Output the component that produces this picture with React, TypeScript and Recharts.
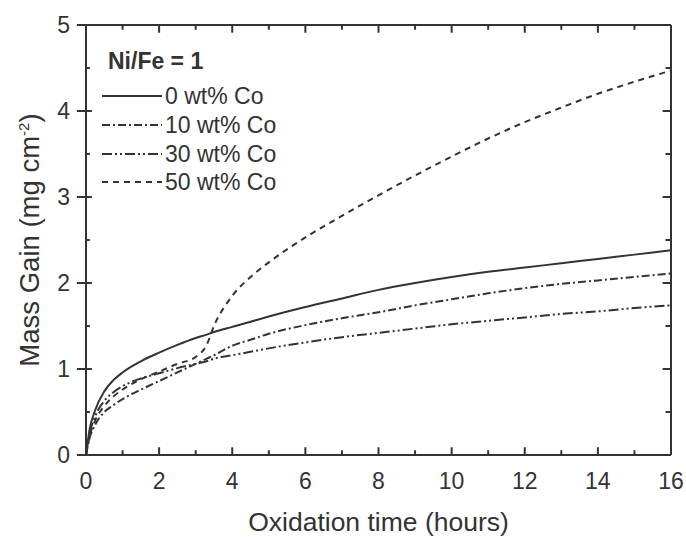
import React from "react";
import { LineChart, Line, XAxis, YAxis, ReferenceLine } from "recharts";

// oxidation time (hours)
const hours = [0, 0.1, 0.25, 0.5, 0.75, 1, 1.5, 2, 2.5, 3, 3.3, 3.5, 4, 4.5, 5, 6, 7, 8, 9, 10, 11, 12, 13, 14, 15, 16];
// mass gain (mg cm^-2)
const co0 = [0, 0.3, 0.52, 0.74, 0.87, 0.96, 1.09, 1.19, 1.28, 1.36, 1.4, 1.43, 1.49, 1.55, 1.61, 1.72, 1.82, 1.92, 2.0, 2.07, 2.13, 2.18, 2.23, 2.28, 2.33, 2.38];
const co10 = [0, 0.2, 0.35, 0.5, 0.58, 0.65, 0.76, 0.86, 0.96, 1.06, 1.12, 1.16, 1.27, 1.34, 1.41, 1.51, 1.59, 1.66, 1.74, 1.81, 1.88, 1.94, 1.99, 2.03, 2.07, 2.11];
const co30 = [0, 0.25, 0.45, 0.63, 0.73, 0.8, 0.89, 0.95, 1.01, 1.06, 1.09, 1.12, 1.16, 1.2, 1.24, 1.31, 1.37, 1.42, 1.47, 1.52, 1.56, 1.6, 1.64, 1.67, 1.71, 1.74];
const co50 = [0, 0.22, 0.4, 0.57, 0.68, 0.76, 0.88, 0.97, 1.06, 1.14, 1.28, 1.5, 1.85, 2.07, 2.24, 2.53, 2.78, 3.02, 3.25, 3.47, 3.68, 3.87, 4.04, 4.2, 4.34, 4.47];

const xLabels = [0, 2, 4, 6, 8, 10, 12, 14, 16];
const xMinor = [1, 3, 5, 7, 9, 11, 13, 15];
const yLabels = [0, 1, 2, 3, 4, 5];
const yMinor = [0.5, 1.5, 2.5, 3.5, 4.5];

const X_MAX = 16;
const Y_MAX = 5;

const series = [
  { key: "co0", name: "0 wt% Co", values: co0, dash: undefined },
  { key: "co10", name: "10 wt% Co", values: co10, dash: "8 3 2 3" },
  { key: "co30", name: "30 wt% Co", values: co30, dash: "10 3 2 3 2 3" },
  { key: "co50", name: "50 wt% Co", values: co50, dash: "6 5" },
];

const data = hours.map((h, i) => {
  const row: Record<string, number> = { h };
  series.forEach((s) => (row[s.key] = s.values[i]));
  return row;
});

const ink = "#333";
const font = "'Liberation Sans', Arial, sans-serif";
const axisStroke = { stroke: ink, strokeWidth: 2 };
const tickFont = { fill: ink, fontSize: 23, fontFamily: font };

// inner tick lengths in axis units (~8px major, ~5px minor)
const xLenMajor = 0.09;
const xLenMinor = 0.055;
const yLenMajor = 0.23;
const yLenMinor = 0.15;

function YTitle(props: any) {
  const vb = props.viewBox || {};
  const cx = vb.x + 29;
  const cy = vb.y + vb.height / 2;
  return (
    <text
      x={cx}
      y={cy}
      transform={`rotate(-90, ${cx}, ${cy})`}
      textAnchor="middle"
      fill={ink}
      fontSize={27.5}
      fontFamily={font}
    >
      Mass Gain (mg cm
      <tspan dy={-10} fontSize={15}>-2</tspan>
      <tspan dy={10}>)</tspan>
    </text>
  );
}

function LegendBox() {
  return (
    <div style={{ position: "absolute", top: 47, left: 102, fontFamily: font, color: ink, fontSize: 23 }}>
      <div style={{ fontWeight: "bold", height: 29, lineHeight: "29px", marginBottom: 6, marginLeft: 6 }}>Ni/Fe = 1</div>
      {series.map((s) => (
        <div key={s.key} style={{ display: "flex", alignItems: "center", height: 28.7 }}>
          <svg width={60} height={10}>
            <line x1={0} y1={5} x2={60} y2={5} stroke={ink} strokeWidth={2} strokeDasharray={s.dash} />
          </svg>
          <span style={{ marginLeft: 3, lineHeight: "28px" }}>{s.name}</span>
        </div>
      ))}
    </div>
  );
}

export default function App() {
  const xTickSegs = [
    ...xLabels.map((v) => ({ v, len: xLenMajor })),
    ...xMinor.map((v) => ({ v, len: xLenMinor })),
  ];
  const yTickSegs = [
    ...yLabels.map((v) => ({ v, len: yLenMajor })),
    ...yMinor.map((v) => ({ v, len: yLenMinor })),
  ];

  return (
    <div style={{ position: "absolute", top: 0, left: 0, width: 686, height: 537, background: "#fff" }}>
      <LineChart width={686} height={537} data={data} margin={{ top: 25, right: 15, bottom: 6, left: 10 }}>
        <XAxis
          dataKey="h"
          type="number"
          domain={[0, X_MAX]}
          ticks={xLabels}
          height={76}
          tick={tickFont}
          tickLine={false}
          tickSize={0}
          tickMargin={18}
          axisLine={axisStroke}
          label={{ value: "Oxidation time (hours)", position: "insideBottom", offset: 0, fill: ink, fontSize: 26.5, fontFamily: font }}
        />
        <YAxis
          type="number"
          domain={[0, Y_MAX]}
          ticks={yLabels}
          width={76}
          tick={tickFont}
          tickLine={false}
          tickSize={0}
          tickMargin={16}
          axisLine={axisStroke}
          label={<YTitle />}
        />

        {/* frame: top and right borders */}
        <ReferenceLine y={Y_MAX} stroke={ink} strokeWidth={2} ifOverflow="visible" />
        <ReferenceLine x={X_MAX} stroke={ink} strokeWidth={2} ifOverflow="visible" />

        {/* inner ticks on bottom and top */}
        {xTickSegs.map((t) => (
          <ReferenceLine key={`b${t.v}`} segment={[{ x: t.v, y: 0 }, { x: t.v, y: t.len }]} stroke={ink} strokeWidth={2} ifOverflow="visible" />
        ))}
        {xTickSegs.map((t) => (
          <ReferenceLine key={`t${t.v}`} segment={[{ x: t.v, y: Y_MAX }, { x: t.v, y: Y_MAX - t.len }]} stroke={ink} strokeWidth={2} ifOverflow="visible" />
        ))}
        {/* inner ticks on left and right, outer ticks on left integers */}
        {yTickSegs.map((t) => (
          <ReferenceLine key={`l${t.v}`} segment={[{ x: 0, y: t.v }, { x: t.len * 0.7, y: t.v }]} stroke={ink} strokeWidth={2} ifOverflow="visible" />
        ))}
        {yTickSegs.map((t) => (
          <ReferenceLine key={`r${t.v}`} segment={[{ x: X_MAX, y: t.v }, { x: X_MAX - t.len, y: t.v }]} stroke={ink} strokeWidth={2} ifOverflow="visible" />
        ))}
        {yLabels.map((v) => (
          <ReferenceLine key={`o${v}`} segment={[{ x: -0.25, y: v }, { x: 0, y: v }]} stroke={ink} strokeWidth={2} ifOverflow="visible" />
        ))}

        {series.map((s) => (
          <Line
            key={s.key}
            type="monotone"
            dataKey={s.key}
            name={s.name}
            stroke={ink}
            strokeWidth={2}
            strokeDasharray={s.dash}
            dot={false}
            activeDot={false}
            isAnimationActive={false}
          />
        ))}
      </LineChart>
      <LegendBox />
    </div>
  );
}
